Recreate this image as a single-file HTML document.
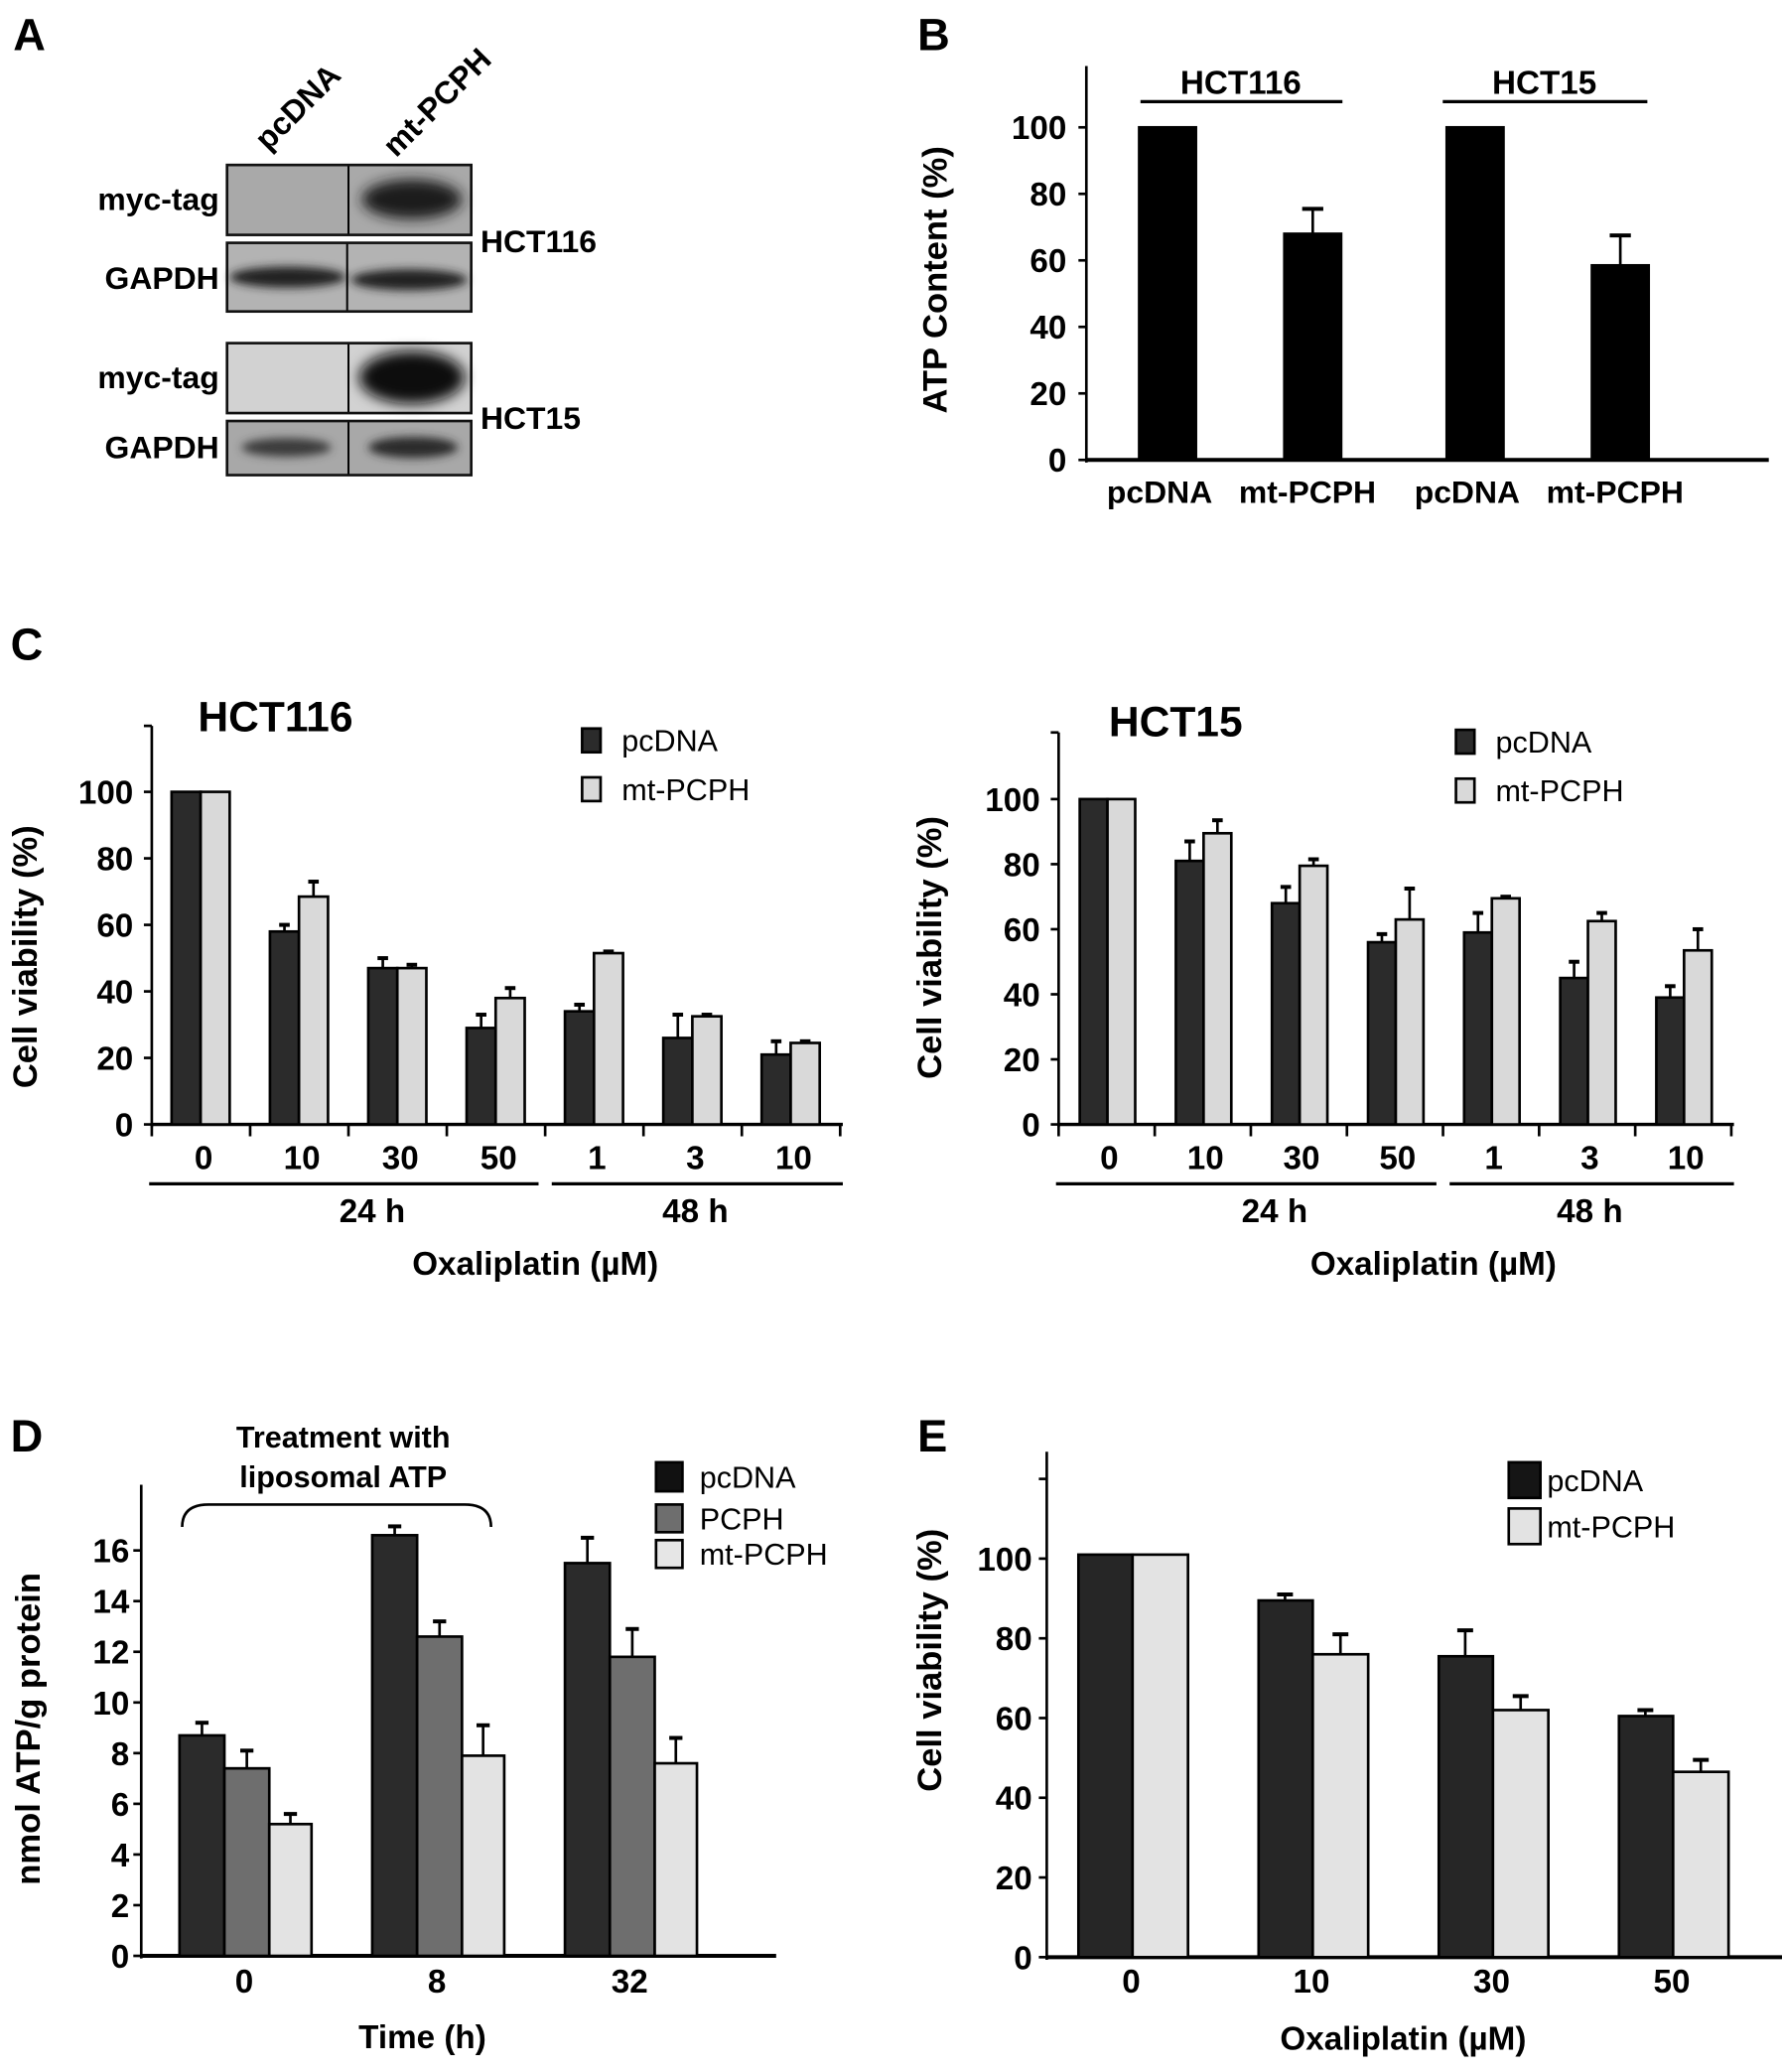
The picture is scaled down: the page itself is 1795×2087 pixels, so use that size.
<!DOCTYPE html>
<html><head><meta charset="utf-8">
<style>
html,body{margin:0;padding:0;background:#fff}
svg{display:block}
text{font-family:"Liberation Sans",Arial,sans-serif;fill:#000}
.b{font-weight:bold}
</style></head>
<body>
<svg id="fig" width="1795" height="2087" viewBox="0 0 1350 1570" preserveAspectRatio="none" xmlns="http://www.w3.org/2000/svg">
<defs>
<filter id="blur4" x="-30%" y="-60%" width="160%" height="220%"><feGaussianBlur stdDeviation="5"/></filter>
<filter id="blur2" x="-30%" y="-60%" width="160%" height="220%"><feGaussianBlur stdDeviation="3.5"/></filter>
</defs>

<!-- Panel A -->
<g>
<text class="b" x="10" y="38" font-size="34">A</text>
<text class="b" x="0" y="0" font-size="24" transform="translate(203,115) rotate(-45)">pcDNA</text>
<text class="b" x="0" y="0" font-size="24" transform="translate(300,120) rotate(-45)">mt-PCPH</text>

<g>
<rect x="172" y="125" width="185" height="53" fill="#a9a9a9"/>
<ellipse cx="312" cy="151" rx="38" ry="15" fill="#1a1a1a" filter="url(#blur4)"/>
<line x1="264" y1="125" x2="264" y2="178" stroke="#000" stroke-width="1.5"/>
<rect x="172" y="125" width="185" height="53" fill="none" stroke="#111" stroke-width="2"/>
</g>
<g>
<rect x="172" y="184" width="185" height="52" fill="#b3b3b3"/>
<ellipse cx="218" cy="210" rx="44" ry="8" fill="#222" filter="url(#blur2)"/>
<ellipse cx="310" cy="212" rx="44" ry="8" fill="#222" filter="url(#blur2)"/>
<line x1="263" y1="184" x2="263" y2="236" stroke="#000" stroke-width="1.5"/>
<rect x="172" y="184" width="185" height="52" fill="none" stroke="#111" stroke-width="2"/>
</g>
<g>
<rect x="172" y="260" width="185" height="53" fill="#d2d2d2"/>
<ellipse cx="312" cy="286" rx="40" ry="20" fill="#0a0a0a" filter="url(#blur4)"/>
<line x1="264" y1="260" x2="264" y2="313" stroke="#000" stroke-width="1.5"/>
<rect x="172" y="260" width="185" height="53" fill="none" stroke="#111" stroke-width="2"/>
</g>
<g>
<rect x="172" y="319" width="185" height="41" fill="#a8a8a8"/>
<ellipse cx="217" cy="339" rx="34" ry="7" fill="#3a3a3a" filter="url(#blur2)"/>
<ellipse cx="313" cy="339" rx="34" ry="8" fill="#2a2a2a" filter="url(#blur2)"/>
<line x1="264" y1="319" x2="264" y2="360" stroke="#000" stroke-width="1.5"/>
<rect x="172" y="319" width="185" height="41" fill="none" stroke="#111" stroke-width="2"/>
</g>
<text class="b" x="166" y="159" font-size="24" text-anchor="end">myc-tag</text>
<text class="b" x="166" y="219" font-size="24" text-anchor="end">GAPDH</text>
<text class="b" x="166" y="294" font-size="24" text-anchor="end">myc-tag</text>
<text class="b" x="166" y="347" font-size="24" text-anchor="end">GAPDH</text>
<text class="b" x="364" y="191" font-size="24">HCT116</text>
<text class="b" x="364" y="325" font-size="24">HCT15</text>
</g>

<g id="panelB"></g>
<g id="panelC1"></g>
<g id="panelC2"></g>
<g id="panelD"></g>
<g id="panelE"></g>
</svg>

<script>
// ---- Panel B data ----
const bCats = ["pcDNA","mt-PCPH","pcDNA","mt-PCPH"];
const bValues = [100, 68, 100, 58.5];
const bErr = [100, 75.5, 100, 67.5];
const bTicks = [0,20,40,60,80,100];

// ---- Panel C HCT116 ----
const c1Cats = ["0","10","30","50","1","3","10"];
const c1Pc = [100, 58, 47, 29, 34, 26, 21];
const c1PcErr = [100, 60, 50, 33, 36, 33, 25];
const c1Mt = [100, 68.5, 47, 38, 51.5, 32.5, 24.5];
const c1MtErr = [100, 73, 48, 41, 52, 33, 25];
const cTicks = [0,20,40,60,80,100];

// ---- Panel C HCT15 ----
const c2Cats = ["0","10","30","50","1","3","10"];
const c2Pc = [100, 81, 68, 56, 59, 45, 39];
const c2PcErr = [100, 87, 73, 58.5, 65, 50, 42.5];
const c2Mt = [100, 89.5, 79.5, 63, 69.5, 62.5, 53.5];
const c2MtErr = [100, 93.5, 81.5, 72.5, 70, 65, 60];

// ---- Panel D ----
const dCats = ["0","8","32"];
const dPc = [8.7, 16.6, 15.5];
const dPcErr = [9.2, 16.95, 16.5];
const dPcph = [7.4, 12.6, 11.8];
const dPcphErr = [8.1, 13.2, 12.9];
const dMt = [5.2, 7.9, 7.6];
const dMtErr = [5.6, 9.1, 8.6];
const dTicks = [0,2,4,6,8,10,12,14,16];

// ---- Panel E ----
const eCats = ["0","10","30","50"];
const ePc = [101, 89.5, 75.5, 60.5];
const ePcErr = [101, 91, 82, 62];
const eMt = [101, 76, 62, 46.5];
const eMtErr = [101, 81, 65.5, 49.5];
const eTicks = [0,20,40,60,80,100];

const NS = "http://www.w3.org/2000/svg";
function mk(parent, tag, attrs, txt) {
  const el = document.createElementNS(NS, tag);
  for (const k in attrs) el.setAttribute(k, attrs[k]);
  if (txt !== undefined) el.textContent = txt;
  parent.appendChild(el);
  return el;
}
function line(p, x1, y1, x2, y2, w) {
  const el = mk(p, "line", {x1:x1, y1:y1, x2:x2, y2:y2, stroke:"#000", "stroke-width":w||2});
  return el;
}
function text(p, x, y, s, size, anchor, bold, extra) {
  const a = {x:x, y:y, "font-size":size, "text-anchor":anchor||"middle"};
  if (bold) a["font-weight"] = "bold";
  if (extra) for (const k in extra) a[k] = extra[k];
  return mk(p, "text", a, s);
}
function bar(p, x, w, y0, yv, fill, name) {
  const r = mk(p, "rect", {x:x, y:Math.min(yv,y0), width:w, height:Math.abs(y0-yv), fill:fill, stroke:"#000", "stroke-width":2});
  
  
  return r;
}
function errbar(p, cx, yTop, yErr, cap, name) {
  if (Math.abs(yTop - yErr) < 0.5) return;
  const g = mk(p, "g", {});
  
  
  line(g, cx, yTop, cx, yErr, 2);
  line(g, cx - cap, yErr, cx + cap, yErr, 3);
}
function yAxis(p, x, yTopPx, yZero, scale, ticks, size, labX) {
  const ax = mk(p, "g", {});
  
  
  line(ax, x, yTopPx, x, yZero + 2, 2);
  ticks.forEach(t => {
    const y = yZero - t * scale;
    line(ax, x - 6, y, x, y, 2);
    const tl = text(ax, labX, y + size * 0.36, String(t), size, "end", true);
    
    
  });
}
function legend(p, x, y, fill, label, w, h, tx, size, name) {
  const g = mk(p, "g", {});
  
  
  mk(g, "rect", {x:x, y:y, width:w, height:h, fill:fill, stroke:"#000", "stroke-width":2});
  text(g, tx, y + h / 2 + size * 0.36, label, size, "start", false);
}

// ===== Panel B =====
(function(){
  const p = document.getElementById("panelB");
  const y0 = 348.5, sc = 2.52, x0 = 823;
  const ys = v => y0 - v * sc;
  const xc = i => 884.5 + i * 110 + (i >= 2 ? 13 : 0);
  text(p, 695, 38, "B", 34, "start", true);
  yAxis(p, x0, 50, y0, sc, bTicks, 25, 808);
  const xa = line(p, x0, y0, 1340, y0, 3);
  
  bCats.forEach((c, i) => {
    bar(p, xc(i) - 21.5, 43, y0, ys(bValues[i]), "#000", "bar-b-" + i);
    errbar(p, xc(i), ys(bValues[i]), ys(bErr[i]), 8, "error-bar-b-" + i);
    const t = text(p, xc(i) + (i%2 ? -4 : -6), 381, c, 24, "middle", true);
    
    
  });
  line(p, 864, 77, 1017, 77, 2.5);
  line(p, 1093, 77, 1248, 77, 2.5);
  text(p, 940, 71, "HCT116", 25, "middle", true);
  text(p, 1170, 71, "HCT15", 25, "middle", true);
  const yl = text(p, 0, 0, "ATP Content  (%)", 26, "middle", true, {transform:"translate(717,212) rotate(-90)"});
  
})();

// ===== Panel C generic =====
function panelC(id, cfg, cats, pc, pcE, mt, mtE) {
  const p = document.getElementById(id);
  const ys = v => cfg.y0 - v * cfg.sc;
  const gx = i => cfg.x0 + i * cfg.step;
  yAxis(p, cfg.x0, cfg.top, cfg.y0, cfg.sc, cTicks, 25, cfg.x0 - 14);
  line(p, cfg.x0 - 6, cfg.top, cfg.x0, cfg.top, 2);
  const xa = line(p, cfg.x0, cfg.y0, cfg.x0 + cats.length * cfg.step + 2, cfg.y0, 2.5);
  
  for (let i = 0; i <= cats.length; i++) line(p, gx(i), cfg.y0, gx(i), cfg.y0 + 9, 2);
  cats.forEach((c, i) => {
    const xd = gx(i) + cfg.off;
    bar(p, xd, cfg.bw, cfg.y0, ys(pc[i]), "#2b2b2b", "bar-pcdna-" + c);
    bar(p, xd + cfg.bw, cfg.bw, cfg.y0, ys(mt[i]), "#d9d9d9", "bar-mt-pcph-" + c);
    errbar(p, xd + cfg.bw / 2, ys(pc[i]), ys(pcE[i]), 4, "error-bar-pcdna-" + c);
    errbar(p, xd + cfg.bw * 1.5, ys(mt[i]), ys(mtE[i]), 4, "error-bar-mt-pcph-" + c);
    const t = text(p, gx(i) + cfg.step / 2 + 2, 886, c, 25, "middle", true);
    
    
  });
  const split = cfg.x0 + 4 * cfg.step;
  line(p, cfg.x0 - 2, 897, split - 5, 897, 2.5);
  line(p, split + 5, 897, cfg.x0 + 7 * cfg.step + 2, 897, 2.5);
  text(p, cfg.x0 + 2 * cfg.step + 18, 926, "24 h", 25, "middle", true);
  text(p, cfg.x0 + 5.5 * cfg.step + 2, 926, "48 h", 25, "middle", true);
  text(p, cfg.x0 + 3.9 * cfg.step, 966, "Oxaliplatin (\u00b5M)", 25, "middle", true);
  text(p, cfg.titleX, cfg.titleY, cfg.title, 32, "start", true);
  legend(p, cfg.legX, cfg.legY, "#2b2b2b", "pcDNA", 14, 18, cfg.legX + 30, 23, "legend-entry-pcdna");
  legend(p, cfg.legX, cfg.legY + 37, "#d9d9d9", "mt-PCPH", 14, 18, cfg.legX + 30, 23, "legend-entry-mt-pcph");
  const yl = text(p, 0, 0, "Cell viability (%)", 26, "middle", true, {transform:"translate(" + cfg.ylX + "," + cfg.ylY + ") rotate(-90)"});
  
}
text(document.getElementById("panelC1"), 8, 500, "C", 34, "start", true);
panelC("panelC1", {x0:115, y0:852, sc:2.52, top:550, step:74.5, off:15, bw:22, title:"HCT116", titleX:150, titleY:554,
  legX:441, legY:552, ylX:28, ylY:725}, c1Cats, c1Pc, c1PcErr, c1Mt, c1MtErr);
panelC("panelC2", {x0:802, y0:852, sc:2.465, top:555, step:72.8, off:16, bw:21, title:"HCT15", titleX:840, titleY:558,
  legX:1103, legY:553, ylX:713, ylY:718}, c2Cats, c2Pc, c2PcErr, c2Mt, c2MtErr);

// ===== Panel D =====
(function(){
  const p = document.getElementById("panelD");
  const y0 = 1482, sc = 19.2, x0 = 107;
  const ys = v => y0 - v * sc;
  const gx = i => 136 + i * 146;
  text(p, 8, 1100, "D", 34, "start", true);
  yAxis(p, x0, 1125, y0, sc, dTicks, 25, 98);
  const xa = line(p, x0, y0, 588, y0, 3);
  
  dCats.forEach((c, i) => {
    const x = gx(i);
    bar(p, x, 34, y0, ys(dPc[i]), "#2b2b2b", "bar-pcdna-" + c + "h");
    bar(p, x + 34, 34, y0, ys(dPcph[i]), "#6e6e6e", "bar-pcph-" + c + "h");
    bar(p, x + 68, 32, y0, ys(dMt[i]), "#e3e3e3", "bar-mt-pcph-" + c + "h");
    errbar(p, x + 17, ys(dPc[i]), ys(dPcErr[i]), 5, "error-bar-pcdna-" + c);
    errbar(p, x + 51, ys(dPcph[i]), ys(dPcphErr[i]), 5, "error-bar-pcph-" + c);
    errbar(p, x + 84, ys(dMt[i]), ys(dMtErr[i]), 5, "error-bar-mt-pcph-" + c);
    const t = text(p, x + 49, 1510, c, 25, "middle", true);
    
    
  });
  text(p, 320, 1552, "Time (h)", 25, "middle", true);
  const br = mk(p, "path", {d:"M138,1157 Q138,1140 158,1140 L352,1140 Q372,1140 372,1157", fill:"none", stroke:"#000", "stroke-width":2});
  
  
  text(p, 260, 1097, "Treatment with", 23, "middle", true);
  text(p, 260, 1127, "liposomal ATP", 23, "middle", true);
  legend(p, 497, 1108, "#111", "pcDNA", 20, 22, 530, 23, "legend-entry-pcdna");
  legend(p, 497, 1140, "#6e6e6e", "PCPH", 20, 21, 530, 23, "legend-entry-pcph");
  legend(p, 497, 1167, "#e6e6e6", "mt-PCPH", 20, 21, 530, 23, "legend-entry-mt-pcph");
  const yl = text(p, 0, 0, "nmol ATP/g protein", 26, "middle", true, {transform:"translate(30,1310) rotate(-90)"});
  
})();

// ===== Panel E =====
(function(){
  const p = document.getElementById("panelE");
  const y0 = 1483, sc = 3.02, x0 = 793;
  const ys = v => y0 - v * sc;
  const gx = i => 817 + i * 136.5;
  text(p, 695, 1100, "E", 34, "start", true);
  yAxis(p, x0, 1100, y0, sc, eTicks, 25, 782);
  line(p, x0 - 6, ys(120), x0, ys(120), 2);
  const xa = line(p, x0, y0, 1350, y0, 3);
  
  eCats.forEach((c, i) => {
    const x = gx(i);
    bar(p, x, 41, y0, ys(ePc[i]), "#262626", "bar-pcdna-" + c);
    bar(p, x + 41, 42, y0, ys(eMt[i]), "#e3e3e3", "bar-mt-pcph-" + c);
    errbar(p, x + 20, ys(ePc[i]), ys(ePcErr[i]), 6, "error-bar-pcdna-" + c);
    errbar(p, x + 62, ys(eMt[i]), ys(eMtErr[i]), 6, "error-bar-mt-pcph-" + c);
    const t = text(p, x + 40, 1510, c, 25, "middle", true);
    
    
  });
  text(p, 1063, 1553, "Oxaliplatin (\u00b5M)", 25, "middle", true);
  legend(p, 1143, 1108, "#151515", "pcDNA", 24, 27, 1172, 23, "legend-entry-pcdna");
  legend(p, 1143, 1143, "#e3e3e3", "mt-PCPH", 24, 27, 1172, 23, "legend-entry-mt-pcph");
  const yl = text(p, 0, 0, "Cell viability (%)", 26, "middle", true, {transform:"translate(713,1258) rotate(-90)"});
  
})();
</script>
</body></html>
